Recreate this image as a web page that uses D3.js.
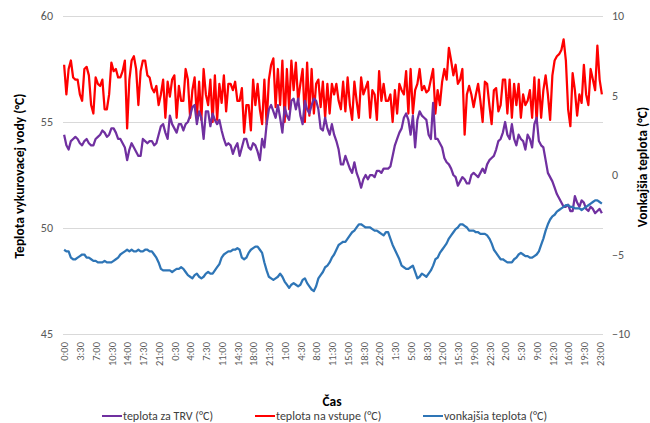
<!DOCTYPE html>
<meta charset="utf-8">
<head>
    <title>Teplota vykurovacej vody</title>
</head>

<style>
    body { margin: 0; background: #fff; }
    .grid line { stroke: #d9d9d9; stroke-width: 1px; shape-rendering: crispEdges; }
    .grid path { stroke-width: 0; }
    .axis path, .axis line { display: none; }
    .axis text { font-family: Carlito, Lato, sans-serif; fill: #595959; }
    .line { fill: none; stroke-width: 2.25px; stroke-linejoin: round; }
    .title { font-family: Carlito, Lato, sans-serif; font-weight: bold; fill: #000; }
    .legend text { font-family: Carlito, Lato, sans-serif; font-size: 12px; fill: #404040; }
</style>

<script src="https://d3js.org/d3.v7.min.js"></script>

<div id="my_viz"></div>

<script>

    // labels shown on the x axis (one every 7 half-hour readings)
    var tickLabels = ["0:00","3:30","7:00","10:30","14:00","17:30","21:00","0:30","4:00","7:30",
        "11:00","14:30","18:00","21:30","1:00","4:30","8:00","11:30","15:00","18:30",
        "22:00","1:30","5:00","8:30","12:00","15:30","19:00","22:30","2:00","5:30",
        "9:00","12:30","16:00","19:30","23:00"];
    var tickStep = 7;

    var seriesNames = ["teplota za TRV (°C)", "teplota na vstupe (°C)", "vonkajšia teplota (°C)"];

    // teplota za TRV (left axis)
    var trv = [54.4,53.9,53.7,54.1,54.2,54.3,54.2,54.0,53.9,54.1,54.2,54.0,53.9,53.9,54.2,54.3,54.4,54.6,54.5,54.3,
        54.4,54.7,54.7,54.5,54.2,54.2,54.0,53.8,53.2,53.7,54.0,53.8,53.6,53.4,53.4,54.2,54.1,54.0,54.1,54.1,
        53.9,54.0,54.4,54.8,54.9,54.5,54.2,55.3,54.9,54.7,54.5,54.9,54.9,54.6,54.9,55.0,55.3,55.7,55.8,54.9,
        55.5,55.2,54.2,55.5,55.5,54.8,55.4,55.1,54.9,55.1,54.6,54.2,53.9,54.0,53.9,53.5,53.8,54.0,53.4,53.8,
        54.2,54.2,53.8,53.7,54.0,53.9,53.6,53.2,54.2,53.8,54.9,55.6,55.8,55.5,55.2,55.8,55.2,54.5,55.7,55.3,
        55.1,56.0,56.1,55.6,56.1,55.3,54.9,56.0,55.6,55.4,55.8,56.1,56.0,55.6,54.7,54.6,55.2,54.7,54.4,54.9,
        54.4,54.1,53.7,53.0,53.0,53.4,53.1,52.8,52.6,53.1,52.6,52.3,51.9,52.3,52.5,52.3,52.5,52.5,52.4,52.7,
        52.7,52.6,52.8,52.8,52.8,52.9,53.4,53.9,54.2,54.5,54.7,55.2,55.4,55.1,54.4,55.3,53.8,55.1,55.5,55.3,
        55.2,55.1,54.4,54.2,55.9,54.2,54.2,54.0,53.8,53.3,53.1,53.0,52.8,52.5,52.4,52.0,52.2,52.4,52.3,52.1,
        52.1,52.5,52.6,52.5,52.4,52.6,52.8,52.6,53.0,53.2,53.3,53.4,53.7,54.1,54.2,54.5,55.0,54.4,54.2,54.9,
        54.2,53.9,54.4,54.2,54.1,53.7,54.4,54.2,53.8,54.9,55.2,54.1,53.9,53.8,53.2,52.6,52.4,52.2,51.9,51.6,
        51.4,51.2,51.0,51.0,51.1,50.8,50.8,51.5,51.2,51.0,51.3,51.2,50.9,50.8,51.0,50.9,50.7,50.8,50.9,50.7];

    // teplota na vstupe (left axis)
    var vstup = [57.7,56.3,57.5,57.9,57.1,57.0,57.0,56.3,56.0,57.5,57.6,57.2,55.8,55.4,57.1,56.8,56.7,57.0,55.6,55.6,
        56.3,57.8,57.4,57.5,57.1,57.1,57.4,57.9,54.7,57.0,57.9,58.1,57.5,55.8,57.4,57.9,57.9,57.2,57.1,56.6,
        56.4,56.7,55.8,56.3,57.0,55.2,56.9,56.2,57.0,57.2,55.2,56.7,56.0,56.0,57.5,57.0,55.2,56.5,57.1,55.2,
        56.9,55.1,57.5,56.3,55.8,57.0,55.0,57.2,55.1,56.8,55.9,57.2,55.5,56.8,56.8,56.5,56.9,56.0,56.0,56.6,
        54.5,55.8,55.8,54.6,57.0,55.8,56.8,55.6,54.9,57.0,54.9,57.0,57.7,58.0,55.7,57.5,55.8,57.9,55.0,57.5,
        55.6,57.9,56.5,57.8,56.0,56.8,57.5,55.0,57.8,55.3,57.5,55.4,56.8,57.0,55.7,56.9,55.2,56.8,55.4,56.8,
        56.3,56.8,56.0,55.6,56.9,55.5,57.1,55.8,55.1,56.9,56.0,55.2,57.1,56.3,56.6,56.9,55.2,56.5,56.3,55.1,
        57.4,56.0,56.8,56.0,56.0,56.3,55.0,56.5,55.4,56.8,56.5,56.3,57.4,55.4,57.5,55.4,56.5,56.8,57.5,56.5,
        56.7,56.4,56.5,57.0,57.5,55.4,56.5,55.8,56.9,57.5,57.0,58.5,57.9,57.2,57.7,56.8,57.0,57.5,54.4,56.3,
        56.7,56.3,55.7,56.3,56.8,56.0,55.0,56.9,56.8,55.8,54.9,56.5,56.6,55.5,55.8,57.0,57.0,55.4,57.0,55.2,
        56.8,55.8,56.8,55.2,56.3,55.8,56.0,56.5,55.2,57.1,55.0,57.0,55.2,56.5,57.2,56.3,55.1,57.2,57.9,58.1,
        58.2,58.4,58.9,57.9,55.6,54.8,57.3,56.5,55.3,56.3,55.9,57.7,56.3,55.8,57.5,57.0,56.5,58.6,57.0,56.3];

    // vonkajšia teplota (right axis)
    var vonk = [-4.7,-4.8,-4.8,-5.2,-5.3,-5.3,-5.2,-5.1,-5.0,-5.0,-5.2,-5.2,-5.3,-5.4,-5.4,-5.5,-5.5,-5.5,-5.4,-5.5,
        -5.5,-5.5,-5.4,-5.3,-5.2,-5.0,-4.9,-4.8,-4.7,-4.8,-4.7,-4.8,-4.8,-4.7,-4.8,-4.8,-4.7,-4.7,-4.8,-4.8,
        -5.0,-5.2,-5.5,-5.9,-6.0,-6.0,-6.0,-6.0,-6.1,-6.0,-5.9,-5.9,-5.8,-5.9,-6.1,-6.3,-6.4,-6.5,-6.3,-6.2,
        -6.4,-6.5,-6.4,-6.2,-6.1,-6.2,-6.2,-6.0,-5.8,-5.6,-5.2,-5.0,-4.9,-4.8,-4.8,-4.7,-4.7,-4.6,-4.7,-5.2,
        -5.3,-5.2,-4.9,-4.7,-4.6,-4.5,-4.5,-4.7,-4.9,-5.5,-6.0,-6.4,-6.5,-6.6,-6.5,-6.4,-6.2,-6.4,-6.7,-6.9,
        -7.1,-6.9,-6.8,-6.9,-7.0,-6.9,-6.6,-6.5,-6.8,-7.0,-7.2,-7.3,-7.0,-6.5,-6.3,-6.1,-5.8,-5.7,-5.5,-5.2,
        -5.0,-4.7,-4.4,-4.3,-4.2,-4.2,-4.0,-3.8,-3.6,-3.5,-3.3,-3.1,-3.1,-3.2,-3.3,-3.3,-3.3,-3.4,-3.5,-3.5,
        -3.6,-3.7,-3.8,-3.6,-3.6,-4.0,-4.4,-4.7,-5.0,-5.3,-5.7,-5.8,-5.9,-5.9,-5.8,-5.7,-6.1,-6.5,-6.4,-6.2,
        -6.3,-6.4,-6.2,-6.0,-5.7,-5.3,-5.2,-4.9,-4.7,-4.5,-4.3,-4.0,-3.8,-3.6,-3.4,-3.3,-3.1,-3.1,-3.2,-3.3,
        -3.5,-3.5,-3.5,-3.6,-3.6,-3.7,-3.7,-3.7,-3.8,-4.0,-4.3,-4.7,-4.9,-5.1,-5.3,-5.3,-5.4,-5.5,-5.5,-5.5,
        -5.3,-5.2,-5.0,-4.9,-5.0,-5.1,-5.1,-5.2,-5.2,-5.1,-5.0,-4.8,-4.4,-4.0,-3.5,-3.1,-2.8,-2.6,-2.5,-2.3,
        -2.2,-2.1,-2.0,-1.9,-1.9,-2.0,-2.0,-2.1,-2.1,-2.1,-2.2,-2.1,-2.0,-1.9,-1.8,-1.7,-1.6,-1.6,-1.7,-1.8];

    var leftTicks = [45, 50, 55, 60];
    var rightTicks = [-10, -5, 0, 5, 10];
    var colors = ["#7030a0", "#ff0000", "#2e75b6"];

    var width = 650, height = 423;
    var plot = { left: 63, right: 603, top: 16, bottom: 334 };

    var svg = d3.select("#my_viz")
        .append("svg")
        .attr("width", width)
        .attr("height", height);

    // category axis: each reading sits in the middle of its slot
    var n = trv.length;
    var slot = (plot.right - plot.left) / n;
    var x = d3.scaleLinear()
        .domain([0, n - 1])
        .range([plot.left + slot / 2, plot.right - slot / 2]);

    var yL = d3.scaleLinear().domain([45, 60]).range([plot.bottom, plot.top]);
    var yR = d3.scaleLinear().domain([-10, 10]).range([plot.bottom, plot.top]);

    // horizontal gridlines
    svg.append("g")
        .attr("class", "grid")
        .attr("transform", "translate(" + plot.left + ",0)")
        .call(d3.axisLeft(yL)
            .tickValues(leftTicks)
            .tickSize(-(plot.right - plot.left))
            .tickFormat(""));

    // left axis
    svg.append("g")
        .attr("class", "axis")
        .attr("transform", "translate(" + (plot.left - 10) + ",0)")
        .call(d3.axisLeft(yL).tickValues(leftTicks).tickSize(0).tickPadding(0))
        .selectAll("text")
        .style("font-size", "12px");

    // right axis
    svg.append("g")
        .attr("class", "axis")
        .attr("transform", "translate(" + (plot.right + 9) + ",0)")
        .call(d3.axisRight(yR).tickValues(rightTicks).tickSize(0).tickPadding(0))
        .selectAll("text")
        .style("font-size", "12px");

    // x axis, rotated labels
    var tickIdx = tickLabels.map(function (d, i) { return i * tickStep; });
    svg.append("g")
        .attr("class", "axis")
        .attr("transform", "translate(0," + plot.bottom + ")")
        .call(d3.axisBottom(x)
            .tickValues(tickIdx)
            .tickSize(0)
            .tickFormat(function (d) { return tickLabels[d / tickStep]; }))
        .selectAll("text")
        .style("font-size", "10.5px")
        .style("text-anchor", "end")
        .attr("transform", "rotate(-90)")
        .attr("x", -8)
        .attr("y", 0)
        .attr("dy", "0.35em");

    // lines
    var seriesData = [
        { vals: trv, y: yL },
        { vals: vstup, y: yL },
        { vals: vonk, y: yR }
    ];
    // draw order: red first, then purple, blue on top
    [1, 0, 2].forEach(function (k) {
        var s = seriesData[k];
        var line = d3.line()
            .x(function (d, i) { return x(i); })
            .y(function (d) { return s.y(d); });
        svg.append("path")
            .datum(s.vals)
            .attr("class", "line")
            .attr("stroke", colors[k])
            .attr("d", line);
    });

    // axis titles
    svg.append("text")
        .attr("class", "title")
        .attr("transform", "translate(24,176) rotate(-90)")
        .style("text-anchor", "middle")
        .style("font-size", "13.5px")
        .text("Teplota vykurovacej vody (°C)");

    svg.append("text")
        .attr("class", "title")
        .attr("transform", "translate(647,167) rotate(-90)")
        .style("text-anchor", "middle")
        .style("font-size", "13.5px")
        .text("Vonkajšia teplota (°C)");

    svg.append("text")
        .attr("class", "title")
        .attr("x", 332)
        .attr("y", 406)
        .style("text-anchor", "middle")
        .style("font-size", "13.5px")
        .text("Čas");

    // legend
    var legendX = [102, 255, 423];
    var legend = svg.append("g").attr("class", "legend");
    seriesNames.forEach(function (name, k) {
        legend.append("line")
            .attr("x1", legendX[k]).attr("x2", legendX[k] + 20)
            .attr("y1", 416).attr("y2", 416)
            .attr("stroke", colors[k])
            .attr("stroke-width", 2);
        legend.append("text")
            .attr("x", legendX[k] + 21)
            .attr("y", 420)
            .text(name);
    });

</script>
